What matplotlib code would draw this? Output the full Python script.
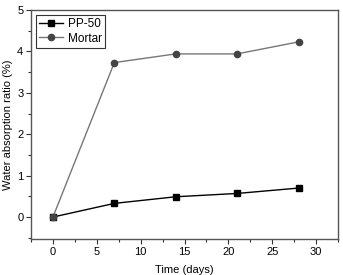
import numpy as np
import matplotlib
matplotlib.use("Agg")
import matplotlib.pyplot as pl
from matplotlib.ticker import MultipleLocator

pl.rcParams['font.family'] = ['Liberation Sans', 'DejaVu Sans']
pl.rcParams['font.size'] = 8

days = [0, 7, 14, 21, 28]
pp50 = [0.0, 0.33, 0.49, 0.57, 0.70]
mortar = [0.0, 3.73, 3.94, 3.94, 4.23]

fig = pl.figure(figsize=(3.43, 2.75), dpi=100)
ax = fig.add_axes([31/343, 1-239/275, (338-31)/343, (239-10)/275])

ax.plot(days, pp50, color='black', lw=1, marker='s', ms=4.5, mfc='black', mec='black', label='PP-50')
ax.plot(days, mortar, color='#777777', lw=1, marker='o', ms=4.5, mfc='#444444', mec='#444444', label='Mortar')

ax.set_xlim(-2.5, 32.5)
ax.set_ylim(-0.53, 5)
ax.xaxis.set_major_locator(MultipleLocator(5))
ax.xaxis.set_minor_locator(MultipleLocator(2.5))
ax.yaxis.set_major_locator(MultipleLocator(1))
ax.yaxis.set_minor_locator(MultipleLocator(0.5))
ax.tick_params(which='both', direction='out', colors='#333333', top=False, right=False)
ax.tick_params(which='major', length=3.5, width=0.8, labelcolor='black', pad=2)
ax.tick_params(which='minor', length=2, width=0.8)
for s in ax.spines.values():
    s.set_color('#555555')
    s.set_linewidth(1)

ax.set_xlabel("Time (days)", labelpad=6)
ax.set_ylabel("Water absorption ratio (%)", labelpad=3)

leg = ax.legend(loc='upper left', fancybox=False, edgecolor='#333333', framealpha=1,
                borderaxespad=0.4, handlelength=2.0, handletextpad=0.4, borderpad=0.3,
                labelspacing=0.2, fontsize=8.5)
leg.get_frame().set_linewidth(0.8)

pl.savefig('out.png', dpi=100)
